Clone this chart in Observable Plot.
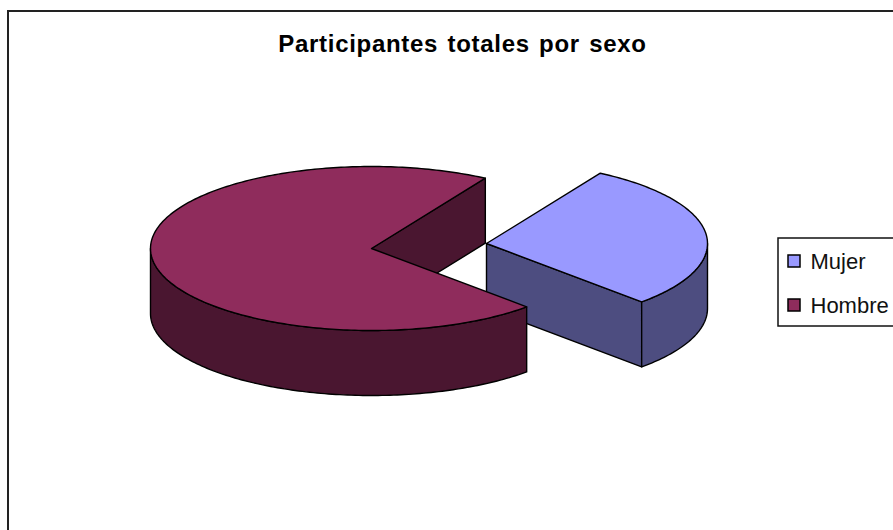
<!DOCTYPE html>
<html>
<head>
<meta charset="utf-8">
<script src="https://cdn.jsdelivr.net/npm/d3@7"></script>
<script src="https://cdn.jsdelivr.net/npm/@observablehq/plot@0.6"></script>
<style>body{margin:0;background:#fff}svg{display:block}</style>
</head>
<body>
<div id="chart"></div>
<script>
const categories = ["Mujer", "Hombre"];
const shares = [29, 71];
const topColors = ["#9999ff", "#8f2c5c"];
const sideColors = ["#4d4d80", "#4a1630"];
const chartTitle = "Participantes totales por sexo";

// 3D pie layout, in page units
const startAngle = -59, rx = 221, ry = 82, depth = 65;
const centers = [[486, 243], [371, 248]];

const total = d3.sum(shares);
const spans = shares.map(s => s / total * 360);
const a0 = [startAngle, startAngle + spans[0]];
const a1 = [startAngle + spans[0], startAngle + spans[0] + spans[1]];

const rad = d => d * Math.PI / 180;
const rim = (i, t, dz = 0) => ({
  x: centers[i][0] + rx * Math.cos(rad(t)),
  y: centers[i][1] + ry * Math.sin(rad(t)) + dz
});
const arc = (i, from, to, dz = 0) => {
  const n = Math.max(2, Math.ceil(Math.abs(to - from)));
  return d3.range(n + 1).map(k => rim(i, from + (to - from) * k / n, dz));
};
const apex = (i, dz = 0) => ({x: centers[i][0], y: centers[i][1] + dz});
const closed = pts => [...pts, pts[0]];

const topFace = i => closed([apex(i), ...arc(i, a0[i], a1[i])]);
const outerWall = (i, from, to) =>
  closed([...arc(i, from, to), ...arc(i, to, from, depth)]);
const radialWall = (i, t) =>
  closed([apex(i), rim(i, t), rim(i, t, depth), apex(i, depth)]);

const face = (pts, fill) =>
  Plot.line(pts, {x: "x", y: "y", fill, stroke: "#000", strokeWidth: 1.4, curve: "linear"});

const legendX = 788, legendW = 12, legendYs = [255, 299];

const plot = Plot.plot({
  width: 893, height: 530,
  margin: 0,
  x: {domain: [0, 893], range: [0, 893], axis: null},
  y: {domain: [0, 530], range: [0, 530], axis: null},
  marks: [
    Plot.ruleX([7.5], {y1: 10, y2: 530, stroke: "#222", strokeWidth: 2}),
    Plot.ruleY([10.5], {x1: 7, x2: 893, stroke: "#222", strokeWidth: 2}),
    // Mujer
    face(radialWall(0, a1[0]), sideColors[0]),
    face(outerWall(0, 0, a1[0]), sideColors[0]),
    face(topFace(0), topColors[0]),
    // Hombre
    face(radialWall(1, a1[1]), sideColors[1]),
    face(outerWall(1, a0[1], 180), sideColors[1]),
    face(topFace(1), topColors[1]),
    // Title
    Plot.text([chartTitle], {
      x: 462, y: 44, text: d => d, fontSize: 24, fontWeight: "bold",
      fontFamily: "Liberation Sans", fill: "#000", className: "chart-title"
    }),
    // Legend
    Plot.rect([0], {x1: 778, x2: 920, y1: 238, y2: 326, fill: "#fff", stroke: "#111", strokeWidth: 1.5}),
    Plot.rect(categories.map((c, i) => i), {
      x1: legendX, x2: legendX + legendW,
      y1: i => legendYs[i], y2: i => legendYs[i] + legendW,
      fill: i => topColors[i], stroke: "#000", strokeWidth: 1.5
    }),
    Plot.text(categories, {
      x: 810, y: (c, i) => legendYs[i] + 6, text: d => d, textAnchor: "start",
      fontSize: 22, fontFamily: "Liberation Sans", fill: "#111"
    })
  ]
});
d3.select(plot).selectAll(".chart-title text, text.chart-title")
  .style("letter-spacing", "0.7px").style("word-spacing", "2px");
document.getElementById("chart").append(plot);
</script>
</body>
</html>
